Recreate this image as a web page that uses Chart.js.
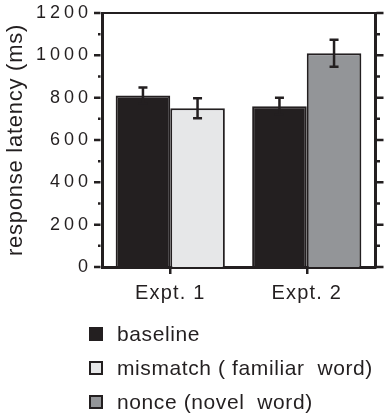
<!DOCTYPE html>
<html>
<head>
<meta charset="utf-8">
<style>
  html, body { margin: 0; padding: 0; background: #ffffff; }
  canvas { display: block; }
</style>
<script src="https://cdn.jsdelivr.net/npm/chart.js@4.4.1/dist/chart.umd.min.js"></script>
</head>
<body>
<canvas id="c" width="389" height="416"></canvas>
<script>
// ---- data ----
const categories = ['Expt. 1', 'Expt. 2'];
const seriesNames = ['baseline', 'mismatch ( familiar  word)', 'nonce (novel  word)'];
const baselineValues = [810, 760];
const mismatchValues = [750, null];
const nonceValues = [null, 1010];
const baselineErrors = [38, 40];
const mismatchErrors = [47, null];
const nonceErrors = [null, 64];
const yTicks = [0, 200, 400, 600, 800, 1000, 1200];
const yTitle = 'response latency (ms)';

// ---- style ----
const INK = '#231f20';
const FAMILY = "'Liberation Sans', Arial, Helvetica, sans-serif";
const seriesColors = ['#231f20', '#e6e7e8', '#939598'];

const BaseLinear = Chart.LinearScale || Chart.registry.getScale('linear');
const BaseCategory = Chart.CategoryScale || Chart.registry.getScale('category');

function spacedScale(Base, id, tickLS, titleLS) {
  class S extends Base {
    drawLabels(...a) { const c = this.ctx; c.save(); c.letterSpacing = tickLS; super.drawLabels(...a); c.restore(); }
    drawTitle(...a) { const c = this.ctx; c.save(); c.letterSpacing = titleLS; super.drawTitle(...a); c.restore(); }
  }
  S.id = id;
  S.defaults = Base.defaults;
  return S;
}
Chart.register(spacedScale(BaseLinear, 'spacedLinear', '4px', '0.75px'));
Chart.register(spacedScale(BaseCategory, 'spacedCategory', '1.2px', '0px'));

const errorSets = [baselineErrors, mismatchErrors, nonceErrors];

const errorBarPlugin = {
  id: 'errorBars',
  afterDatasetsDraw(chart) {
    const ctx = chart.ctx;
    const ys = chart.scales.y;
    ctx.save();
    ctx.strokeStyle = INK;
    ctx.lineWidth = 2.5;
    chart.data.datasets.forEach((ds, i) => {
      const meta = chart.getDatasetMeta(i);
      meta.data.forEach((bar, j) => {
        const v = ds.data[j];
        const e = errorSets[i][j];
        if (v == null || e == null) return;
        const x = bar.x;
        const yt = ys.getPixelForValue(v + e);
        const yb = ys.getPixelForValue(v - e);
        const cap = 4.5;
        ctx.beginPath();
        ctx.moveTo(x, yt); ctx.lineTo(x, yb);
        ctx.moveTo(x - cap, yt); ctx.lineTo(x + cap, yt);
        ctx.moveTo(x - cap, yb); ctx.lineTo(x + cap, yb);
        ctx.stroke();
      });
    });
    ctx.restore();
  }
};

const axisDecorPlugin = {
  id: 'axisDecor',
  afterDraw(chart) {
    const ctx = chart.ctx;
    const a = chart.chartArea;
    const ys = chart.scales.y;
    ctx.save();
    ctx.strokeStyle = INK;
    // top frame line
    ctx.lineWidth = 2;
    ctx.beginPath();
    ctx.moveTo(a.left, a.top); ctx.lineTo(a.right + 1.5, a.top);
    ctx.stroke();
    // tick marks (major at labelled ticks, minor halfway)
    ctx.lineWidth = 2.5;
    const step = yTicks[1] - yTicks[0];
    for (let v = ys.min; v <= ys.max + 1e-6; v += step / 2) {
      const major = yTicks.includes(v);
      const y = ys.getPixelForValue(v);
      ctx.beginPath();
      ctx.moveTo(a.left - 1.5, y); ctx.lineTo(a.left - 1.5 - (major ? 6.5 : 2.5), y);
      ctx.moveTo(a.right + 1.5, y); ctx.lineTo(a.right + 1.5 + (major ? 7 : 3.5), y);
      ctx.stroke();
    }
    ctx.restore();
  }
};

const legendPlugin = {
  id: 'manualLegend',
  afterDraw(chart) {
    const ctx = chart.ctx;
    ctx.save();
    ctx.letterSpacing = '0.6px';
    ctx.font = '21px ' + FAMILY;
    ctx.textBaseline = 'middle';
    ctx.textAlign = 'left';
    const x0 = 90, y0 = 334, dy = 34;
    chart.data.datasets.forEach((ds, i) => {
      const cy = y0 + i * dy;
      ctx.fillStyle = ds.backgroundColor;
      ctx.fillRect(x0, cy - 6, 12, 12);
      ctx.strokeStyle = INK;
      ctx.lineWidth = 2;
      ctx.strokeRect(x0, cy - 6, 12, 12);
      ctx.fillStyle = INK;
      ctx.fillText(ds.label, 117, cy + 1.5);
    });
    ctx.restore();
  }
};

const seriesValues = [baselineValues, mismatchValues, nonceValues];

new Chart(document.getElementById('c'), {
  type: 'bar',
  data: {
    labels: categories,
    datasets: seriesNames.map((name, i) => ({
      label: name,
      data: seriesValues[i],
      backgroundColor: seriesColors[i],
      borderColor: INK,
      borderWidth: 2,
      skipNull: true,
      categoryPercentage: 0.8,
      barPercentage: 1.0
    }))
  },
  options: {
    responsive: false,
    devicePixelRatio: 1,
    animation: false,
    layout: { padding: { top: 13, bottom: 109, left: 0, right: 0 } },
    plugins: { legend: { display: false }, tooltip: { enabled: false } },
    scales: {
      x: {
        type: 'spacedCategory',
        position: 'bottom',
        afterFit: s => { s.height = 40; },
        grid: { display: true, drawOnChartArea: false, drawTicks: true, tickLength: 7, lineWidth: 2.5, color: INK, offset: false },
        border: { display: true, width: 3, color: INK },
        ticks: { font: { family: FAMILY, size: 20 }, color: INK, padding: 7, maxRotation: 0 }
      },
      y: {
        type: 'spacedLinear',
        position: 'left',
        min: 0, max: 1200,
        afterFit: s => { s.width = 102; },
        afterBuildTicks: s => { s.ticks = yTicks.map(v => ({ value: v })); },
        grid: { display: false },
        border: { display: true, width: 3, color: INK },
        ticks: { font: { family: FAMILY, size: 18 }, color: INK, padding: 2, callback: v => String(v) },
        title: { display: true, text: yTitle, font: { family: FAMILY, size: 22 }, color: INK, padding: { top: 3, bottom: 0 } }
      },
      y2: {
        type: 'linear',
        position: 'right',
        min: 0, max: 1200,
        afterFit: s => { s.width = 14; },
        grid: { display: false },
        border: { display: true, width: 3, color: INK },
        ticks: { display: false }
      }
    }
  },
  plugins: [errorBarPlugin, axisDecorPlugin, legendPlugin]
});
</script>
</body>
</html>
